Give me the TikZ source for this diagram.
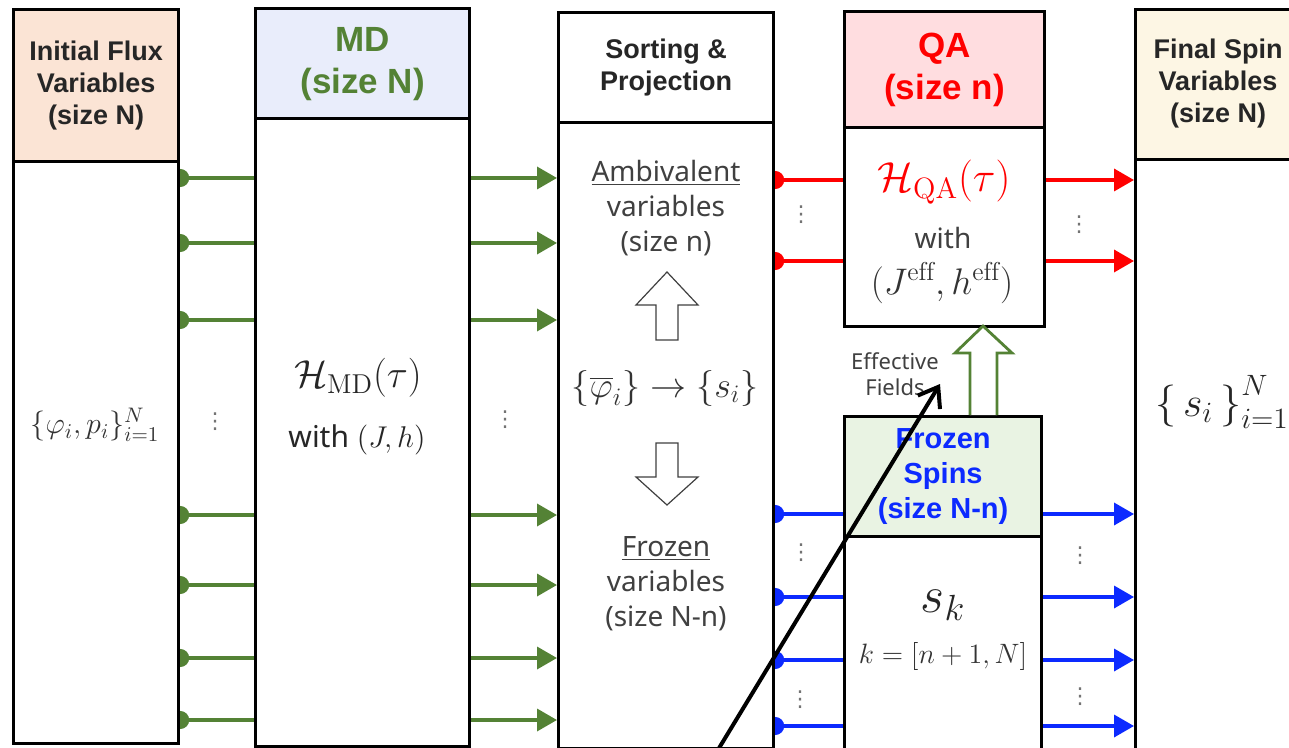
\RequirePackage{fix-cm}
\documentclass[tikz,border=0pt]{standalone}
\usepackage{fontspec}
\setsansfont{Noto Sans}
\newfontfamily\hdfont{Liberation Sans}
\newfontfamily\dotfont{DejaVu Sans}
\usetikzlibrary{arrows.meta,backgrounds}

\definecolor{mdgreen}{RGB}{84,130,53}
\definecolor{qared}{RGB}{255,0,0}
\definecolor{fzblue}{RGB}{12,42,255}
\definecolor{inifill}{RGB}{251,228,213}
\definecolor{mdfill}{RGB}{233,237,251}
\definecolor{qafill}{RGB}{255,221,224}
\definecolor{fzfill}{RGB}{233,243,227}
\definecolor{finfill}{RGB}{253,246,228}
\definecolor{txtgray}{RGB}{64,64,64}

\begin{document}
\begin{tikzpicture}[x=0.5pt, y=-0.5pt,
        colbox/.style={draw, line width=1.6pt, fill=white, anchor=north west, inner sep=0pt},
        hdsmall/.style={font=\hdfont\bfseries\fontsize{13.5}{16}\selectfont, align=center, text=black!85},
        hdbig/.style={font=\hdfont\bfseries\fontsize{17.5}{21}\selectfont, align=center},
        bodytxt/.style={font=\sffamily\fontsize{14}{17.5}\selectfont, align=center, text=txtgray},
        vdot/.style={font=\dotfont\fontsize{11}{12}\selectfont, text=black!55, inner sep=0pt},
        wirein/.style={color=#1, line width=1.8pt, {Circle[length=9pt]}-, shorten <=-4.5pt},
        wireout/.style={color=#1, line width=1.8pt, -{Triangle[length=10pt,width=11pt]}},
        hollow/.style={draw=#1, fill=white, line join=miter}]
                \useasboundingbox (0,0) rectangle (1289,748);
                \clip (0,0) rectangle (1289,748);
                % Columns and headers:
                \node[colbox, minimum width=82.5pt, minimum height=367pt] (ini) at (12,8) {};
                \node[colbox, fill=inifill, minimum width=82.5pt, minimum height=76pt] (inihead) at (12,8) {};
                \node[hdsmall] (initxt) at (inihead.center) {Initial Flux\\Variables\\(size N)};
                \node[text=black!80, font=\fontsize{15}{17}\selectfont] (inivars) at (95,425) {$\{\varphi_i,p_i\}_{i=1}^N$};

                \node[colbox, minimum width=107pt, minimum height=369pt] (md) at (254,7) {};
                \node[colbox, fill=mdfill, minimum width=107pt, minimum height=55pt] (mdhead) at (254,7) {};
                \node[hdbig, text=mdgreen] (mdtxt) at (mdhead.center) {MD\\(size N)};
                \node[text=black!85, font=\fontsize{19.5}{22}\selectfont] (mdham) at (358,378) {$\mathcal{H}_{\mathrm{MD}}(\tau)$};
                \node[text=black!85, font=\sffamily\fontsize{15}{17}\selectfont] (mdwith) at (357,440) {with $(J,h)$};

                \node[colbox, minimum width=107.5pt, minimum height=368pt] (sort) at (557,11) {};
                \node[colbox, minimum width=107.5pt, minimum height=55pt] (sorthead) at (557,11) {};
                \node[hdsmall] (sorttxt) at (sorthead.center) {Sorting \&\\Projection};
                \node[bodytxt] (ambi) at (666,208) {\underline{Ambivalent}\\variables\\(size n)};
                \node[text=black!80, font=\fontsize{18}{20}\selectfont] (proj) at (665,388) {$\{\overline{\varphi}_i\}\rightarrow\{s_i\}$};
                \node[bodytxt] (froz) at (666,584) {\underline{Frozen}\\variables\\(size N-n)};

                \node[colbox, minimum width=100pt, minimum height=157.5pt] (qa) at (843,10) {};
                \node[colbox, fill=qafill, minimum width=100pt, minimum height=58pt] (qahead) at (843,10) {};
                \node[hdbig, text=qared] (qatxt) at (qahead.center) {QA\\(size n)};
                \node[text=qared, font=\fontsize{21}{23}\selectfont] (qaham) at (944,182) {$\mathcal{H}_{\mathrm{QA}}(\tau)$};
                \node[text=txtgray, font=\sffamily\fontsize{14}{16}\selectfont] (qawith) at (943,238) {with};
                \node[text=black!80, font=\fontsize{18.5}{20}\selectfont] (qapar) at (942,283) {$(J^{\mathrm{eff}},h^{\mathrm{eff}})$};

                \node[colbox, minimum width=98.5pt, minimum height=172.5pt] (fz) at (843,415) {};
                \node[colbox, fill=fzfill, minimum width=98.5pt, minimum height=60pt] (fzhead) at (843,415) {};
                \node[text=fzblue, align=center, font=\hdfont\bfseries\fontsize{14.5}{17.5}\selectfont] (fztxt) at (fzhead.center) {Frozen\\Spins\\(size N-n)};
                \node[text=black!85, font=\fontsize{26}{28}\selectfont] (sk) at (943,605) {$s_k$};
                \node[text=black!80, font=\fontsize{14}{16}\selectfont] (krange) at (943,656) {$k=[n+1,N]$};

                \node[colbox, minimum width=98pt, minimum height=371pt] (fin) at (1134,8) {};
                \node[colbox, fill=finfill, minimum width=98pt, minimum height=75pt] (finhead) at (1134,8) {};
                \node[hdsmall] (fintxt) at (1218,84) {Final Spin\\Variables\\(size N)};
                \node[anchor=west, text=black!85, font=\fontsize{21}{24}\selectfont] (finvars) at (1148,402) {$\Bigl\{\,s_i\,\Bigr\}_{i=1}^{N}$};

                % Wires:
                \begin{pgfonlayer}{background}
                \foreach \y in {178,243,320,515,585,658,720} {
                    \draw[wirein=mdgreen] (ini.east |- 0,\y) -- (md.west |- 0,\y);
                    \draw[wireout=mdgreen] (md.east |- 0,\y) -- (sort.west |- 0,\y);
                }
                \foreach \y in {180,261} {
                    \draw[wirein=qared] (sort.east |- 0,\y) -- (qa.west |- 0,\y);
                    \draw[wireout=qared] (qa.east |- 0,\y) -- (fin.west |- 0,\y);
                }
                \foreach \y in {514,597,660,726} {
                    \draw[wirein=fzblue] (sort.east |- 0,\y) -- (fz.west |- 0,\y);
                    \draw[wireout=fzblue] (fz.east |- 0,\y) -- (fin.west |- 0,\y);
                }
                \end{pgfonlayer}
                \node[vdot] (dot1) at (215,422) {⋮};
                \node[vdot] (dot2) at (505,420) {⋮};
                \node[vdot] (dot3) at (801,215) {⋮};
                \node[vdot] (dot4) at (1079,225) {⋮};
                \node[vdot] (dot5) at (801,553) {⋮};
                \node[vdot] (dot6) at (800,700) {⋮};
                \node[vdot] (dot7) at (1080,556) {⋮};
                \node[vdot] (dot8) at (1080,697) {⋮};

                % Block arrows:
                \draw[hollow=black!75, line width=0.6pt] (656,340) -- (656,305) -- (636,305) -- (667,272) -- (698,305) -- (678,305) -- (678,340) -- cycle;
                \draw[hollow=black!75, line width=0.6pt] (656,443) -- (678,443) -- (678,477) -- (698,477) -- (667,505) -- (636,477) -- (656,477) -- cycle;
                \draw[hollow=mdgreen, line width=1.4pt] (970,415) -- (970,353) -- (955,353) -- (983,326) -- (1012,353) -- (997,353) -- (997,415);
                \node[text=txtgray, align=center, font=\sffamily\fontsize{11}{13}\selectfont] (efftxt) at (895,374) {Effective\\Fields};

                % Pointer:
                \coordinate (ptrfrom) at (713,758);
                \coordinate (ptrto) at (940,384);
                \draw[line width=2pt, -{Straight Barb[length=9pt,width=13pt]}] (ptrfrom) -- (ptrto);
            \end{tikzpicture}
\end{document}
